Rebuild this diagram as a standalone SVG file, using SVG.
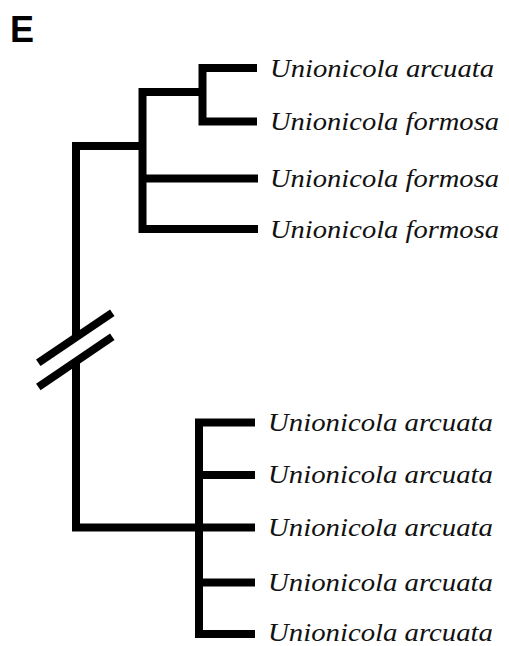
<svg xmlns="http://www.w3.org/2000/svg" width="509" height="646" viewBox="0 0 509 646">
  <style>
    .br { fill: none; stroke: #000; stroke-width: 8; stroke-linejoin: miter; stroke-linecap: butt; }
    .tx { font-family: "Liberation Serif", "Times New Roman", serif; font-style: italic; font-size: 25px; fill: #111; }
    .lbl { font-family: "Liberation Sans", Arial, sans-serif; font-weight: bold; font-size: 36px; fill: #000; }
  </style>
  <rect width="509" height="646" fill="#fff"/>
  <text class="lbl" x="10" y="42">E</text>

  <!-- tree branches -->
  <g id="connectors">
    <!-- root with break -->
    <path class="br" d="M142.5,146 H76 V338"/>
    <path class="br" d="M76,360 V527.5 H199"/>
    <line class="br" x1="38.3" y1="362.7" x2="112.3" y2="312.7"/>
    <line class="br" x1="38.3" y1="387" x2="112.3" y2="336.7"/>
    <!-- upper clade -->
    <path class="br" d="M202.5,92 H142.5 V229 H258"/>
    <path class="br" d="M142.5,178.5 H258"/>
    <path class="br" d="M257,68 H202.5 V121.5 H257"/>
    <!-- lower clade -->
    <path class="br" d="M255,422.5 H199 V634 H255"/>
    <path class="br" d="M199,475 H255"/>
    <path class="br" d="M199,527.5 H255"/>
    <path class="br" d="M199,582.5 H255"/>
  </g>

  <g id="leaf1"><text class="tx" x="270" y="76.5" textLength="224" lengthAdjust="spacingAndGlyphs">Unionicola arcuata</text></g>
  <g id="leaf2"><text class="tx" x="270" y="130" textLength="229" lengthAdjust="spacingAndGlyphs">Unionicola formosa</text></g>
  <g id="leaf3"><text class="tx" x="270" y="187" textLength="229" lengthAdjust="spacingAndGlyphs">Unionicola formosa</text></g>
  <g id="leaf4"><text class="tx" x="270" y="237.5" textLength="229" lengthAdjust="spacingAndGlyphs">Unionicola formosa</text></g>
  <g id="leaf5"><text class="tx" x="268" y="430.5" textLength="225" lengthAdjust="spacingAndGlyphs">Unionicola arcuata</text></g>
  <g id="leaf6"><text class="tx" x="268" y="483" textLength="225" lengthAdjust="spacingAndGlyphs">Unionicola arcuata</text></g>
  <g id="leaf7"><text class="tx" x="268" y="535.5" textLength="225" lengthAdjust="spacingAndGlyphs">Unionicola arcuata</text></g>
  <g id="leaf8"><text class="tx" x="268" y="590.5" textLength="225" lengthAdjust="spacingAndGlyphs">Unionicola arcuata</text></g>
  <g id="leaf9"><text class="tx" x="268" y="641" textLength="225" lengthAdjust="spacingAndGlyphs">Unionicola arcuata</text></g>
</svg>
